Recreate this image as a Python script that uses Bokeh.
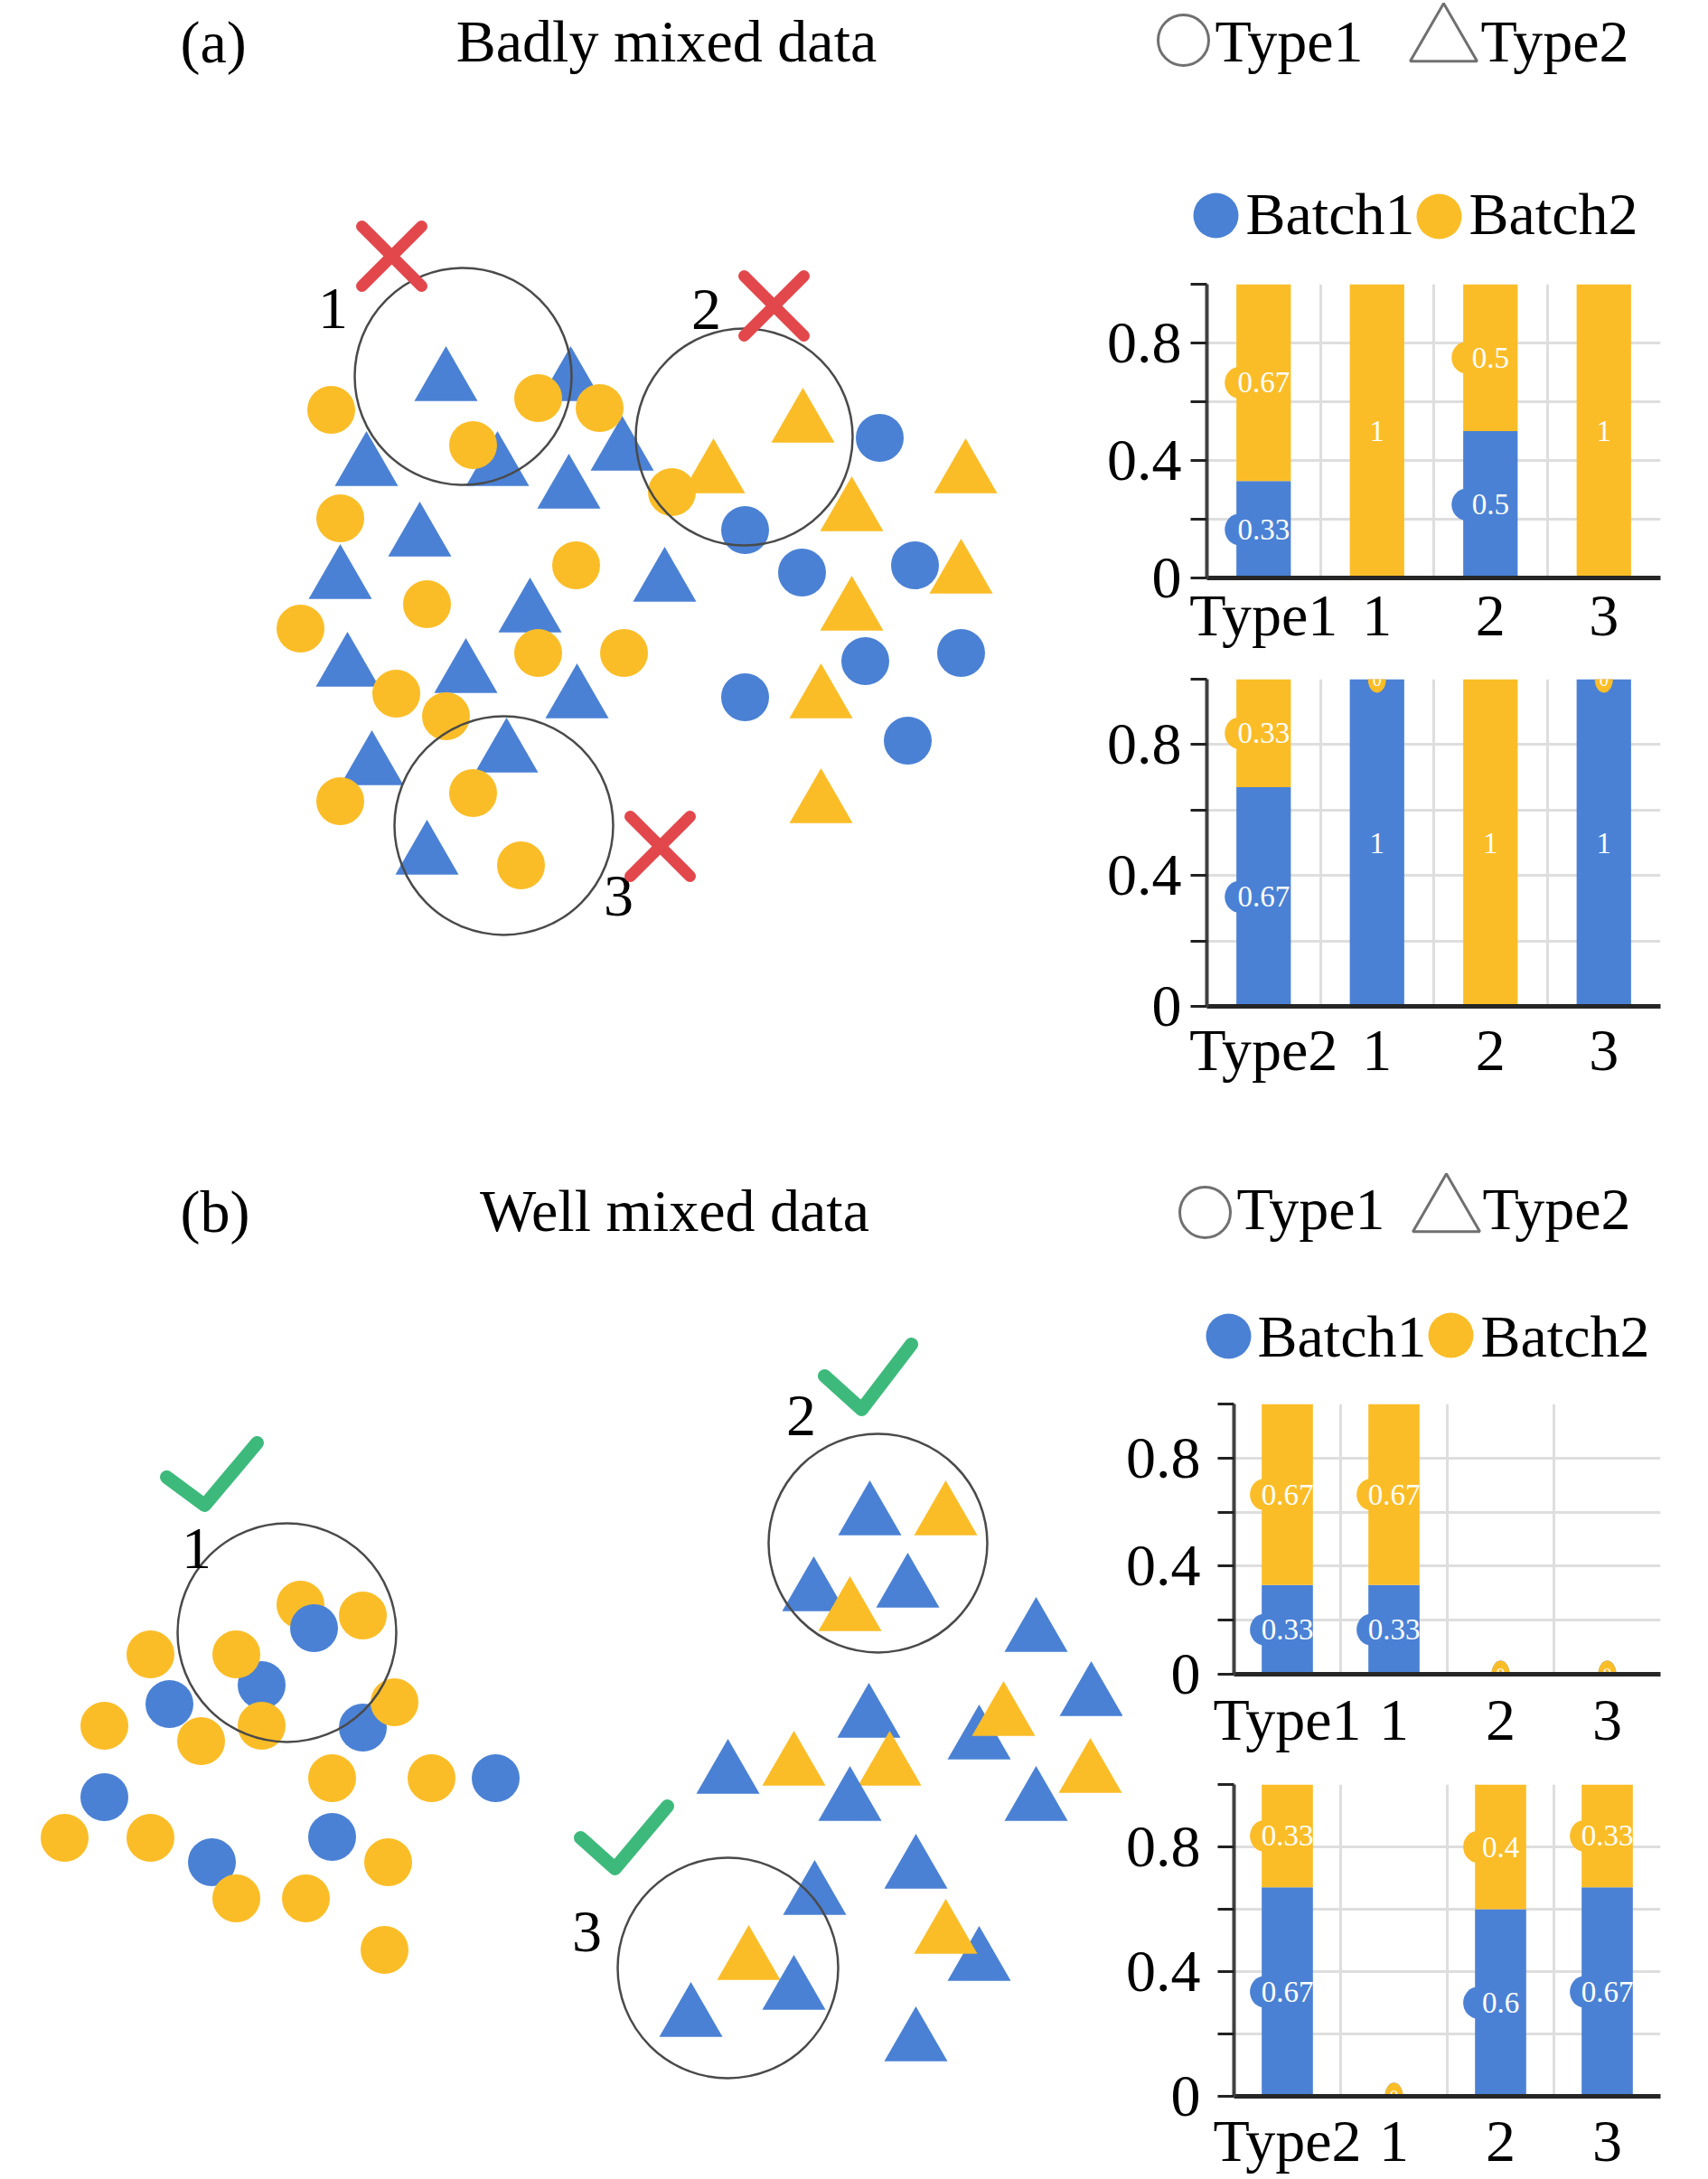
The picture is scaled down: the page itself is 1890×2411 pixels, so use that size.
from bokeh.plotting import figure
from bokeh.layouts import row, column
from bokeh.models import Range1d, FixedTicker, CustomJSTickFormatter
from bokeh.core.properties import value
from bokeh.embed import file_html
from bokeh.resources import INLINE

FONT = "Liberation Serif"
BLUE = "#4a81d5"
YELLOW = "#fbbd27"
RED = "#e2474c"
GREEN = "#3dba7b"
RING = "#4a4a4a"
LEG = "#707070"
BIG = "66px"

# ---------------- bar chart data ----------------
cats_type1 = ["Type1", "1", "2", "3"]
cats_type2 = ["Type2", "1", "2", "3"]
batches = ["Batch1", "Batch2"]
a_type1_batch1 = [0.33, 0.0, 0.5, 0.0]
a_type1_batch2 = [0.67, 1.0, 0.5, 1.0]
a_type2_batch1 = [0.67, 1.0, 0.0, 1.0]
a_type2_batch2 = [0.33, 0.0, 1.0, 0.0]
b_type1_batch1 = [0.33, 0.33, 0.0, 0.0]
b_type1_batch2 = [0.67, 0.67, 0.0, 0.0]
b_type2_batch1 = [0.67, 0.0, 0.6, 0.67]
b_type2_batch2 = [0.33, 0.0, 0.4, 0.33]
y_major_ticks = [0, 0.4, 0.8]
y_minor_ticks = [0.2, 0.6, 1.0]
y_grid_ticks = [0.2, 0.4, 0.6, 0.8, 1.0]

# ---------------- scatter (a): badly mixed ----------------
a_tri_x = [493, 631, 405, 550, 688, 629, 464, 376, 735, 586, 384, 515, 638, 411, 560, 472,
           888, 789, 942, 1068, 1063, 942, 908, 908]
a_tri_y = [423, 423, 517, 517, 500, 542, 595, 642, 645, 679, 739, 746, 774, 848, 834, 947,
           469, 525, 567, 525, 636, 677, 774, 890]
a_tri_batch = ["Batch1"] * 16 + ["Batch2"] * 8
a_dot_x = [366, 595, 523, 663, 376, 637, 472, 332, 595, 690, 438, 493, 376, 523, 576, 743,
           973, 824, 887, 1012, 957, 1063, 824, 1004]
a_dot_y = [453, 440, 492, 451, 573, 625, 668, 695, 722, 722, 767, 792, 886, 877, 957, 544,
           484, 586, 633, 625, 731, 722, 771, 819]
a_dot_batch = ["Batch2"] * 16 + ["Batch1"] * 8
a_ring_x = [512, 823, 557]
a_ring_y = [416, 483, 913]
a_ring_r = [120, 120, 121]
a_ring_label = ["1", "2", "3"]
a_label_x = [368, 781, 684]
a_label_y = [341, 342, 991]
a_cross_x = [433, 856, 730]
a_cross_y = [283, 338, 936]

# ---------------- scatter (b): well mixed ----------------
b_tri_x = [962, 1046, 900, 940, 1004, 1146, 961, 1083, 1110, 1207, 805, 878, 984, 940, 1146,
           1206, 1013, 901, 1083, 1046, 828, 878, 764, 1013]
b_tri_y = [1678, 1678, 1762, 1784, 1758, 1807, 1902, 1926, 1900, 1878, 1964, 1955, 1955, 1994,
           1994, 1963, 2069, 2098, 2171, 2141, 2170, 2203, 2233, 2260]
b_tri_batch = ["Batch1", "Batch2", "Batch1", "Batch2", "Batch1", "Batch1", "Batch1", "Batch1",
               "Batch2", "Batch1", "Batch1", "Batch2", "Batch2", "Batch1", "Batch1", "Batch2",
               "Batch1", "Batch1", "Batch1", "Batch2", "Batch2", "Batch1", "Batch1", "Batch1"]
b_dot_x = [332, 347, 289, 187, 401, 115, 548, 367, 234,
           401, 261, 166, 115, 222, 289, 436, 367, 477, 71, 166, 261, 338, 429, 425]
b_dot_y = [1775, 1801, 1864, 1885, 1911, 1988, 1967, 2032, 2060,
           1787, 1830, 1830, 1909, 1926, 1909, 1883, 1967, 1967, 2033, 2033, 2100, 2100, 2060, 2157]
b_dot_batch = ["Batch2"] + ["Batch1"] * 8 + ["Batch2"] * 15
b_ring_x = [317, 971, 805]
b_ring_y = [1806, 1707, 2177]
b_ring_r = [121, 121, 122]
b_ring_label = ["1", "2", "3"]
b_label_x = [217, 886, 649]
b_label_y = [1713, 1566, 2137]
b_check_x = [[184, 226, 284], [912, 953, 1008], [642, 680, 738]]
b_check_y = [[1634, 1665, 1596], [1522, 1559, 1487], [2033, 2067, 1998]]

COLORS = {"Batch1": BLUE, "Batch2": YELLOW}


def canvas(x0, x1, y0, y1):
    p = figure(width=x1 - x0, height=y1 - y0,
               x_range=Range1d(x0, x1), y_range=Range1d(y1, y0),
               x_axis_type=None, y_axis_type=None,
               output_backend="svg", toolbar_location=None,
               min_border=0, outline_line_color=None, frame_align=False)
    return p


def big_text(p, xs, ys, texts, align="left", size=BIG):
    p.text(x=xs, y=ys, text=texts, text_font=value(FONT), text_font_size=size,
           text_color="black", text_align=align, text_baseline="middle")


def scatter_panel(p, tx, ty, tb, dx, dy, db, rx, ry, rr, rl, lx, ly):
    p.scatter(tx, ty, marker="triangle", size=70, fill_color=[COLORS[b] for b in tb], line_color=None)
    p.scatter(dx, dy, marker="circle", size=53, fill_color=[COLORS[b] for b in db], line_color=None)
    p.circle(rx, ry, radius=rr, fill_color=None, line_color=RING, line_width=2.5)
    big_text(p, lx, ly, rl, align="center")


def add_labels(p, xs, bottoms, vals, color):
    nx, ny, nt, bx, by, zx, zy = [], [], [], [], [], [], []
    for x, b, v in zip(xs, bottoms, vals):
        if v > 0:
            t = "1" if v == 1 else f"{v:g}"
            nx.append(x); ny.append(b + v / 2); nt.append(t)
            if t != "1":
                bx.append(x - 0.43); by.append(b + v / 2)
        else:
            zx.append(x); zy.append(b)
    if bx:
        p.ellipse(bx, by, width=32, height=35, width_units="screen", height_units="screen",
                  fill_color=color, line_color=None)
    if nx:
        p.text(nx, ny, text=nt, text_font=value(FONT), text_font_size="33px", text_color="white",
               text_align="center", text_baseline="middle")
    if zx:
        p.ellipse(zx, zy, width=20, height=30, width_units="screen", height_units="screen",
                  fill_color=color, line_color=None)
        p.text(zx, zy, text=["0"] * len(zx), text_font=value(FONT), text_font_size="20px",
               text_color="white", text_align="center", text_baseline="middle")


def bar_chart(cats, batch1, batch2, box, frame, x_standoff, y_standoff):
    x0, x1, y0, y1 = box
    fl, fr, ft, fb = frame
    n = len(cats)
    xs = [2 * i + 1 for i in range(n)]
    p = figure(width=x1 - x0, height=y1 - y0, x_range=Range1d(0, 2 * n), y_range=Range1d(0, 1),
               output_backend="svg", toolbar_location=None, frame_align=False,
               min_border_left=fl - x0, min_border_right=x1 - fr,
               min_border_top=ft - y0, min_border_bottom=y1 - fb)
    p.outline_line_color = None
    p.xgrid.ticker = FixedTicker(ticks=[2 * (i + 1) for i in range(n)])
    p.ygrid.ticker = FixedTicker(ticks=y_grid_ticks)
    p.grid.grid_line_color = "#dedede"
    p.grid.grid_line_width = 3

    tops = [a + b for a, b in zip(batch1, batch2)]
    p.vbar(x=xs, bottom=0, top=batch1, width=0.96, fill_color=COLORS[batches[0]], line_color=None)
    add_labels(p, xs, [0] * n, batch1, COLORS[batches[0]])
    p.vbar(x=xs, bottom=batch1, top=tops, width=0.96, fill_color=COLORS[batches[1]], line_color=None)
    add_labels(p, xs, batch1, batch2, COLORS[batches[1]])

    xa = p.xaxis[0]
    xa.ticker = FixedTicker(ticks=xs)
    xa.formatter = CustomJSTickFormatter(args=dict(cats=cats),
                                         code="return cats[Math.round((tick - 1) / 2)];")
    xa.major_tick_line_color = None
    xa.minor_tick_line_color = None
    xa.major_tick_out = 0
    xa.major_tick_in = 0
    xa.axis_line_color = "#262626"
    xa.axis_line_width = 5
    xa.major_label_standoff = x_standoff

    ya = p.yaxis[0]
    ya.ticker = FixedTicker(ticks=y_major_ticks, minor_ticks=y_minor_ticks)
    ya.formatter = CustomJSTickFormatter(code="return (Math.round(tick * 10) / 10).toString();")
    ya.axis_line_color = "#404040"
    ya.axis_line_width = 4
    ya.major_tick_line_color = "#222222"
    ya.major_tick_line_width = 3
    ya.major_tick_out = 18
    ya.major_tick_in = 0
    ya.minor_tick_line_color = "#222222"
    ya.minor_tick_line_width = 3
    ya.minor_tick_out = 18
    ya.minor_tick_in = 0
    ya.major_label_standoff = y_standoff

    for ax in (xa, ya):
        ax.major_label_text_font = FONT
        ax.major_label_text_font_size = BIG
        ax.major_label_text_color = "black"
    return p


def legend_panel(p, circ, tri, t1, t2, dot1, dot2, b1, b2):
    p.scatter([circ[0]], [circ[1]], marker="circle", size=56, fill_color=None, line_color=LEG, line_width=3)
    p.scatter([tri[0]], [tri[1]], marker="triangle", size=74, fill_color=None, line_color=LEG, line_width=3)
    big_text(p, [t1[0], t2[0]], [t1[1], t2[1]], ["Type1", "Type2"])
    p.scatter([dot1[0], dot2[0]], [dot1[1], dot2[1]], marker="circle", size=50,
              fill_color=[COLORS[b] for b in batches], line_color=None)
    big_text(p, [b1[0], b2[0]], [b1[1], b2[1]], batches)


W, H = 1890, 2411

# ---------------- section (a) ----------------
scatA = canvas(0, 1215, 0, 1262)
big_text(scatA, [199], [46], ["(a)"])
big_text(scatA, [737], [45], ["Badly mixed data"], align="center")
scatter_panel(scatA, a_tri_x, a_tri_y, a_tri_batch, a_dot_x, a_dot_y, a_dot_batch,
              a_ring_x, a_ring_y, a_ring_r, a_ring_label, a_label_x, a_label_y)
d = 33
scatA.segment(x0=[x - d for x in a_cross_x] + [x - d for x in a_cross_x],
              y0=[y - d for y in a_cross_y] + [y + d for y in a_cross_y],
              x1=[x + d for x in a_cross_x] + [x + d for x in a_cross_x],
              y1=[y + d for y in a_cross_y] + [y - d for y in a_cross_y],
              line_color=RED, line_width=13, line_cap="round")

legA = canvas(1215, W, 0, 290)
legend_panel(legA, (1309, 44), (1597, 46), (1344, 45), (1638, 45),
             (1345, 238), (1592, 239), (1378, 236), (1625, 236))

bar1 = bar_chart(cats_type1, a_type1_batch1, a_type1_batch2, (1215, W, 290, 735), (1335, 1837, 314, 639), 4, 10)
bar2 = bar_chart(cats_type2, a_type2_batch1, a_type2_batch2, (1215, W, 735, 1262), (1335, 1837, 751, 1113), 11, 10)

# ---------------- section (b) ----------------
scatB = canvas(0, 1242, 1262, H)
big_text(scatB, [199], [1340], ["(b)"])
big_text(scatB, [746], [1339], ["Well mixed data"], align="center")
scatter_panel(scatB, b_tri_x, b_tri_y, b_tri_batch, b_dot_x, b_dot_y, b_dot_batch,
              b_ring_x, b_ring_y, b_ring_r, b_ring_label, b_label_x, b_label_y)
scatB.multi_line(xs=b_check_x, ys=b_check_y, line_color=GREEN, line_width=15,
                 line_cap="round", line_join="round")

legB = canvas(1242, W, 1262, 1540)
legend_panel(legB, (1333, 1341), (1600, 1341), (1368, 1337), (1640, 1337),
             (1359, 1478), (1605, 1477), (1391, 1478), (1638, 1478))

bar3 = bar_chart(cats_type1, b_type1_batch1, b_type1_batch2, (1242, W, 1540, 1941), (1364, 1837, 1553, 1852), 13, 19)
bar4 = bar_chart(cats_type2, b_type2_batch1, b_type2_batch2, (1242, W, 1941, H), (1364, 1837, 1974, 2319), 12, 19)

layout = column(row(scatA, column(legA, bar1, bar2)),
                row(scatB, column(legB, bar3, bar4)))

open("out.html", "w").write(file_html(layout, INLINE))
